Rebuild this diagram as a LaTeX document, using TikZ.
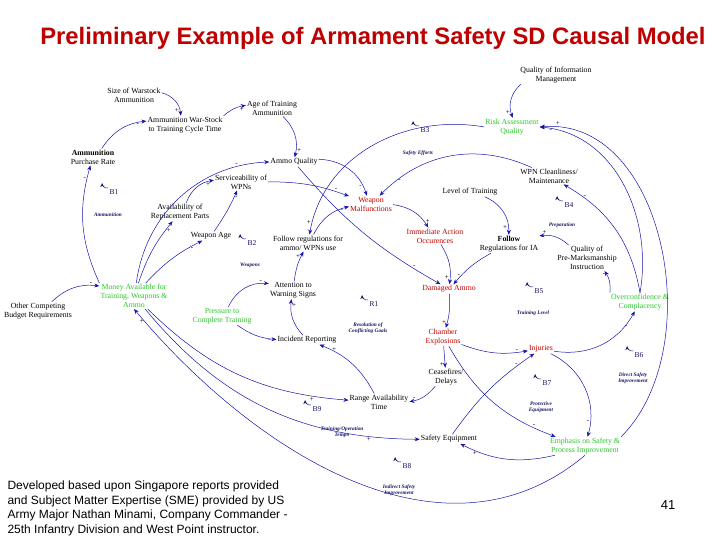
\documentclass[tikz,border=0pt]{standalone}
\usepackage{fontspec}
\setmainfont{Liberation Serif}
\newfontfamily\sansf{Liberation Sans}
\usetikzlibrary{arrows.meta}
\definecolor{linkblue}{RGB}{20,20,170}
\definecolor{titlered}{RGB}{190,0,0}
\definecolor{varred}{RGB}{200,0,0}
\definecolor{vargreen}{RGB}{40,200,40}
\definecolor{loopnavy}{RGB}{20,20,100}

\tikzset{
  var/.style={align=center,font=\fontsize{7.8}{9}\selectfont,inner sep=1pt},
  redvar/.style={var,text=varred},
  greenvar/.style={var,text=vargreen},
  looptxt/.style={align=center,font=\fontsize{5.3}{6.5}\selectfont\bfseries\itshape,text=loopnavy},
  link/.style={draw=linkblue,line width=0.5pt,-{Stealth[length=5pt,width=4pt]}},
  sgn/.style={font=\fontsize{7}{7}\selectfont,inner sep=1pt,pos=0.85}
}
\newcommand{\loopmark}[3]{% name, position, label
  \coordinate (#1) at #2;
  \draw[draw=loopnavy,line width=0.5pt,-{Stealth[length=4pt,width=3.5pt]}] ([shift={(5,-5)}]#1) arc[start angle=80,end angle=180,radius=5];
  \node[font=\fontsize{7.5}{8}\selectfont,text=loopnavy,anchor=west] at ([shift={(3,-1)}]#1) {#3};
}

\begin{document}
\begin{tikzpicture}[x=1pt,y=-1pt]
  \useasboundingbox (0,0) rectangle (720,540);

  % Title
  \node[font=\sansf\bfseries\fontsize{23.8}{26}\selectfont,text=titlered] (title) at (373,38) {Preliminary Example of Armament Safety SD Causal Model};

  % Variables
  \node[var] (qim) at (556,75) {Quality of Information\\Management};
  \node[var] (warstock) at (134,95) {Size of Warstock\\Ammunition};
  \node[var] (awstock) at (185,125) {Ammunition War-Stock\\to Training Cycle Time};
  \node[var] (agetrain) at (272,108) {Age of Training\\Ammunition};
  \node[greenvar] (risk) at (512,127) {Risk Assessment\\Quality};
  \node[var] (purchase) at (93,157) {\textbf{Ammunition}\\Purchase Rate};
  \node[var] (ammoq) at (294,162) {Ammo Quality};
  \node[var] (serv) at (241,182) {Serviceability of\\WPNs};
  \node[var] (wpnclean) at (549,176) {WPN Cleanliness/\\Maintenance};
  \node[redvar] (wmal) at (371,204) {Weapon\\Malfunctions};
  \node[var] (levtrain) at (470,192) {Level of Training};
  \node[var] (avail) at (180,212) {Availability of\\Replacement Parts};
  \node[redvar] (iao) at (435,236) {Immediate Action\\Occurences};
  \node[var] (followia) at (509,244) {\textbf{Follow}\\Regulations for IA};
  \node[var] (wage) at (211,236) {Weapon Age};
  \node[var] (followreg) at (308,243) {Follow regulations for\\ammo/ WPNs use};
  \node[var] (qpmi) at (587,258) {Quality of\\Pre-Marksmanship\\Instruction};
  \node[greenvar] (money) at (134,296) {Money Available for\\Training, Weapons \&\\Ammo};
  \node[var] (attn) at (293,290) {Attention to\\Warning Signs};
  \node[redvar] (damaged) at (449,289) {Damaged Ammo};
  \node[greenvar] (overconf) at (640,302) {Overconfidence \&\\Complacency};
  \node[var] (other) at (38,311) {Other Competing\\Budget Requirements};
  \node[greenvar] (pressure) at (222,316) {Pressure to\\Complete Training};
  \node[redvar] (chamber) at (443,337) {Chamber\\Explosions};
  \node[var] (incident) at (307,340) {Incident Reporting};
  \node[redvar] (injuries) at (541,349) {Injuries};
  \node[var] (ceasefire) at (446,377) {Ceasefires/\\Delays};
  \node[var] (range) at (379,402) {Range Availability\\Time};
  \node[var] (safetyeq) at (449,439) {Safety Equipment};
  \node[greenvar] (emphasis) at (585,446) {Emphasis on Safety \&\\Process Improvement};

  % Loop markers and names
  \loopmark{b1}{(103,193)}{B1}
  \loopmark{b2}{(241,244)}{B2}
  \loopmark{b3}{(414,131)}{B3}
  \loopmark{b4}{(558,206)}{B4}
  \loopmark{b5}{(528,292)}{B5}
  \loopmark{r1}{(363,305)}{R1}
  \loopmark{b6}{(628,356)}{B6}
  \loopmark{b7}{(536,384)}{B7}
  \loopmark{b9}{(306,410)}{B9}
  \loopmark{b8}{(396,467)}{B8}
  \node[looptxt] (lammo) at (108,215) {Ammunition};
  \node[looptxt] (lweap) at (250,265) {Weapons};
  \node[looptxt] (lsafe) at (418,153) {Safety Efforts};
  \node[looptxt] (lprep) at (562,225) {Preparation};
  \node[looptxt] (lres) at (368,328) {Resolution of\\Conflicting Goals};
  \node[looptxt] (ltrain) at (533,313) {Training Level};
  \node[looptxt] (ldirect) at (633,378) {Direct Safety\\Improvement};
  \node[looptxt] (lprot) at (541,407) {Protective\\Equipment};
  \node[looptxt] (ltempo) at (342,432) {Training/Operation\\Tempo};
  \node[looptxt] (lindirect) at (399,490) {Indirect Safety\\Improvement};

  % Links
  \draw[link] (warstock) to[bend left=35] node[sgn,left]{+} (awstock);
  \draw[link] (purchase) to[bend left=25] node[sgn,below]{-} (awstock);
  \draw[link] (awstock.north east) to[bend left=15] node[sgn,below]{+} (agetrain);
  \draw[link] (agetrain) to[bend left=30] node[sgn,right]{+} (ammoq);
  \draw[link] (money) to[bend left=40] node[sgn,above left]{-} (ammoq);
  \draw[link] (money.north west) to[bend left=20] node[sgn,pos=0.9,left]{-} (purchase);
  \draw[link] (money) to[bend left=10] node[sgn,right]{+} (avail);
  \draw[link] (money) to[bend left=10] node[sgn,below]{-} (wage);
  \draw[link] (avail) to[bend left=30] node[sgn,below]{+} (serv);
  \draw[link] (wage) to[bend right=5] node[sgn,right]{-} (serv);
  \draw[link] (ammoq) to[bend left=35] node[sgn,left]{-} (wmal);
  \draw[link] (serv) to[bend left=10] node[sgn,above]{-} (wmal);
  \draw[link] (followreg) to[bend left=25] node[sgn,below]{-} (wmal);
  \draw[link] (wpnclean) to[bend right=35] node[sgn,below]{-} (wmal);
  \draw[link] (risk.west) to[out=170,in=80] node[sgn,pos=0.95,left]{+} (followreg);
  \draw[link] (ammoq) to[bend right=10] node[sgn,above]{-} (damaged);
  \draw[link] (wmal) to[bend left=25] node[sgn,right]{+} (iao);
  \draw[link] (iao) to[bend left=20] node[sgn,left]{+} (damaged);
  \draw[link] (followia) to[bend right=10] node[sgn,above]{-} (damaged);
  \draw[link] (levtrain) to[bend left=35] node[sgn,left]{+} (followia);
  \draw[link] (qpmi) to[bend right=25] node[sgn,above]{+} (followia);
  \draw[link] (qim) to[bend right=35] node[sgn,left]{+} (risk);
  \draw[link] (overconf.north) to[out=80,in=-5] node[sgn,pos=0.95,below]{-} (risk.east);
  \draw[link] (emphasis.north east) to[out=45,in=5] node[sgn,pos=0.95,above]{+} (risk.east);
  \draw[link] (overconf.north) to[out=100,in=-30] node[sgn,right]{-} (wpnclean);
  \draw[link] (overconf.north west) to[bend right=20] node[sgn,left]{-} (qpmi);
  \draw[link] (pressure) to[bend left=35] node[sgn,above]{-} (attn);
  \draw[link] (pressure) to[bend right=15] node[sgn,below]{-} (incident);
  \draw[link] (incident) to[bend left=25] node[sgn,right]{+} (attn);
  \draw[link] (attn) to[bend left=10] node[sgn,left]{+} (followreg);
  \draw[link] (range) to[bend right=20] node[sgn,right]{+} (incident);
  \draw[link] (money) to[bend right=20] node[sgn,below]{+} (range);
  \draw[link] (other) to[bend left=25] node[sgn,above]{-} (money);
  \draw[link] (damaged) to[bend left=10] node[sgn,left]{+} (chamber);
  \draw[link] (chamber) -- node[sgn,left]{+} (ceasefire);
  \draw[link] (ceasefire) to[bend left=20] node[sgn,above]{-} (range);
  \draw[link] (chamber) to[bend right=15] node[sgn,above]{-} (injuries);
  \draw[link] (chamber) to[bend right=20] node[sgn,above]{-} (emphasis);
  \draw[link] (injuries) to[bend right=35] node[sgn,below]{-} (overconf);
  \draw[link] (injuries) to[bend left=40] node[sgn,left]{-} (emphasis);
  \draw[link] (safetyeq) to[bend left=10] node[sgn,left]{-} (injuries);
  \draw[link] (emphasis) to[bend left=20] node[sgn,below]{+} (safetyeq);
  \draw[link] (money) to[bend right=25] node[sgn,below]{+} (safetyeq);
  \draw[link] (emphasis.south) to[out=-140,in=-50] node[sgn,pos=0.97,left]{+} (money.south);

  % Footer
  \node[font=\sansf\fontsize{12}{14.8}\selectfont,align=left,anchor=north west] (note) at (4,477) {Developed based upon Singapore reports provided\\and Subject Matter Expertise (SME) provided by US\\Army Major Nathan Minami, Company Commander -\\25th Infantry Division and West Point instructor.};
  \node[font=\sansf\fontsize{13}{15}\selectfont] (page) at (668,505) {41};
\end{tikzpicture}
\end{document}
